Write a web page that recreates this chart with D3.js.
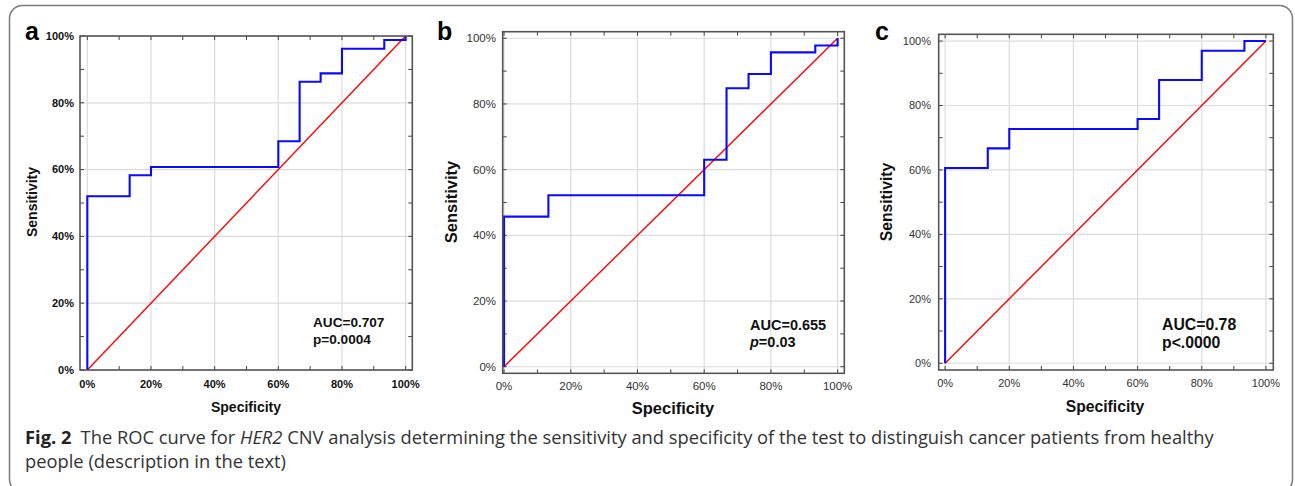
<!DOCTYPE html>
<html>
<head>
<meta charset="utf-8">
<script src="https://cdn.jsdelivr.net/npm/d3@7"></script>
<style>
  body { margin: 0; background: #fff; }
  svg { display: block; }
</style>
</head>
<body>
<svg id="fig" width="1295" height="486"></svg>
<script>
// ROC step points: at specificity spec[i] the sensitivity rises to sens[i]
var specA = [0, 0.133, 0.2, 0.6, 0.667, 0.733, 0.8, 0.933, 1];
var sensA = [0.52, 0.583, 0.608, 0.685, 0.863, 0.888, 0.962, 0.988, 1];

var specB = [0, 0.133, 0.6, 0.667, 0.733, 0.8, 0.933, 1];
var sensB = [0.457, 0.522, 0.630, 0.848, 0.891, 0.957, 0.978, 1];

var specC = [0, 0.133, 0.2, 0.6, 0.667, 0.8, 0.933, 1];
var sensC = [0.606, 0.667, 0.727, 0.758, 0.879, 0.970, 1, 1];

var tickValues = [0, 0.2, 0.4, 0.6, 0.8, 1];
var minorTicks = d3.range(0, 1.0001, 0.1);
var aucLabels = ["AUC=0.707", "AUC=0.655", "AUC=0.78"];
var pLabels = ["p=0.0004", "p=0.03", "p<.0000"];
var panelLetters = ["a", "b", "c"];

var svg = d3.select("#fig");

// outer rounded border
svg.append("rect")
  .attr("x", 9.5).attr("y", 5.5)
  .attr("width", 1283).attr("height", 487)
  .attr("rx", 13)
  .attr("fill", "none")
  .attr("stroke", "#7a7a7a")
  .attr("stroke-width", 1.5);

// panel layout (pixel boxes)
var panels = [
  { spec: specA, sens: sensA, left: 80, right: 412.3, top: 36, bottom: 370,
    xdom: [-0.023, 1.021], ydom: [0, 1],
    tickFont: "bold 11px 'Liberation Sans', Arial, sans-serif", tickFill: "#111",
    yLabX: 74, xLabY: 388, titleSize: 14, sensX: 36.5, sensY: 202, specX: 246, specY: 412,
    aucX: 313, aucY: 327, pY: 344, aucSize: 13.6, pItalic: false,
    letterX: 25, letterY: 40 },
  { spec: specB, sens: sensB, left: 502.7, right: 844.3, top: 31.7, bottom: 373.3,
    xdom: [-0.004, 1.02], ydom: [-0.02, 1.02],
    tickFont: "11.5px 'Liberation Sans', Arial, sans-serif", tickFill: "#333",
    yLabX: 496, xLabY: 390, titleSize: 16.5, sensX: 456.5, sensY: 202, specX: 673, specY: 414,
    aucX: 750, aucY: 330, pY: 347, aucSize: 14.5, pItalic: true,
    letterX: 437, letterY: 40 },
  { spec: specC, sens: sensC, left: 938.7, right: 1273.3, top: 34.3, bottom: 370,
    xdom: [-0.02, 1.023], ydom: [-0.021, 1.021],
    tickFont: "11px 'Liberation Sans', Arial, sans-serif", tickFill: "#333",
    yLabX: 931, xLabY: 387, titleSize: 15.7, sensX: 892, sensY: 202, specX: 1105, specY: 412,
    aucX: 1162, aucY: 330, pY: 348, aucSize: 15.8, pItalic: false,
    letterX: 875, letterY: 40 }
];

var fmtPct = function(d) { return Math.round(d * 100) + "%"; };

panels.forEach(function(p, i) {
  var x = d3.scaleLinear().domain(p.xdom).range([p.left, p.right]);
  var y = d3.scaleLinear().domain(p.ydom).range([p.bottom, p.top]);
  var g = svg.append("g");

  // grid
  g.selectAll(".gx").data(tickValues).enter().append("line")
    .attr("x1", function(d) { return x(d); }).attr("x2", function(d) { return x(d); })
    .attr("y1", p.top).attr("y2", p.bottom)
    .attr("stroke", "#dcdcdc").attr("stroke-width", 1.2);
  g.selectAll(".gy").data(tickValues).enter().append("line")
    .attr("y1", function(d) { return y(d); }).attr("y2", function(d) { return y(d); })
    .attr("x1", p.left).attr("x2", p.right)
    .attr("stroke", "#dcdcdc").attr("stroke-width", 1.2);

  // inward minor ticks on all four sides
  var tk = 4;
  minorTicks.forEach(function(d) {
    g.append("line").attr("x1", x(d)).attr("x2", x(d)).attr("y1", p.top).attr("y2", p.top + tk)
      .attr("stroke", "#444").attr("stroke-width", 1);
    g.append("line").attr("x1", x(d)).attr("x2", x(d)).attr("y1", p.bottom).attr("y2", p.bottom - tk)
      .attr("stroke", "#444").attr("stroke-width", 1);
    g.append("line").attr("y1", y(d)).attr("y2", y(d)).attr("x1", p.left).attr("x2", p.left + tk)
      .attr("stroke", "#444").attr("stroke-width", 1);
    g.append("line").attr("y1", y(d)).attr("y2", y(d)).attr("x1", p.right).attr("x2", p.right - tk)
      .attr("stroke", "#444").attr("stroke-width", 1);
  });

  // chance diagonal
  g.append("path")
    .attr("d", d3.line().x(function(d) { return x(d[0]); }).y(function(d) { return y(d[1]); })([[0, 0], [1, 1]]))
    .attr("fill", "none").attr("stroke", "#ff0000").attr("stroke-width", 1.4);

  // ROC step curve
  var pts = [[0, 0]].concat(p.spec.map(function(s, k) { return [s, p.sens[k]]; }));
  g.append("path")
    .attr("d", d3.line().curve(d3.curveStepAfter)
      .x(function(d) { return x(d[0]); }).y(function(d) { return y(d[1]); })(pts))
    .attr("fill", "none").attr("stroke", "#0a0aff").attr("stroke-width", 2.1);

  // frame
  g.append("rect")
    .attr("x", p.left).attr("y", p.top)
    .attr("width", p.right - p.left).attr("height", p.bottom - p.top)
    .attr("fill", "none").attr("stroke", "#555").attr("stroke-width", 1.6);

  // tick labels
  g.selectAll(".ty").data(tickValues).enter().append("text")
    .attr("x", p.yLabX).attr("y", function(d) { return y(d); })
    .attr("dy", "0.35em").attr("text-anchor", "end")
    .style("font", p.tickFont).attr("fill", p.tickFill)
    .text(fmtPct);
  g.selectAll(".tx").data(tickValues).enter().append("text")
    .attr("x", function(d) { return x(d); }).attr("y", p.xLabY)
    .attr("text-anchor", "middle")
    .style("font", p.tickFont).attr("fill", p.tickFill)
    .text(fmtPct);

  // axis titles
  g.append("text")
    .attr("x", p.specX).attr("y", p.specY).attr("text-anchor", "middle")
    .style("font", "bold " + p.titleSize + "px 'Liberation Sans', Arial, sans-serif")
    .attr("fill", "#111").text("Specificity");
  g.append("text")
    .attr("transform", "translate(" + p.sensX + "," + p.sensY + ") rotate(-90)")
    .attr("text-anchor", "middle")
    .style("font", "bold " + p.titleSize + "px 'Liberation Sans', Arial, sans-serif")
    .attr("fill", "#111").text("Sensitivity");

  // AUC annotation
  var aFont = "bold " + p.aucSize + "px 'Liberation Sans', Arial, sans-serif";
  g.append("text").attr("x", p.aucX).attr("y", p.aucY)
    .style("font", aFont).attr("fill", "#111").text(aucLabels[i]);
  var pt = g.append("text").attr("x", p.aucX).attr("y", p.pY)
    .style("font", aFont).attr("fill", "#111");
  if (p.pItalic) {
    pt.append("tspan").style("font-style", "italic").text(pLabels[i].slice(0, 1));
    pt.append("tspan").text(pLabels[i].slice(1));
  } else {
    pt.text(pLabels[i]);
  }

  // panel letter
  g.append("text").attr("x", p.letterX).attr("y", p.letterY)
    .style("font", "bold 25px 'Liberation Sans', Arial, sans-serif")
    .attr("fill", "#000").text(panelLetters[i]);
});

// caption
var capFont = "18.5px 'Open Sans', 'Noto Sans', sans-serif";
var cap1 = svg.append("text").attr("x", 0).attr("y", 0)
  .style("font", capFont).attr("fill", "#333");
cap1.append("tspan").style("font-weight", "bold").attr("fill", "#222").text("Fig. 2");
cap1.append("tspan").text("\u2002The ROC curve for ");
cap1.append("tspan").style("font-style", "italic").text("HER2");
cap1.append("tspan").text(" CNV analysis determining the sensitivity and specificity of the test to distinguish cancer patients from healthy");
var cap2 = svg.append("text").attr("x", 0).attr("y", 0)
  .style("font", capFont).attr("fill", "#333")
  .text("people (description in the text)");

var w1 = cap1.node().getComputedTextLength();
var sx = (1214 - 25) / w1;
cap1.attr("transform", "translate(25,444) scale(" + sx + ",1)");
cap2.attr("transform", "translate(25,468) scale(" + sx + ",1)");
</script>
</body>
</html>
